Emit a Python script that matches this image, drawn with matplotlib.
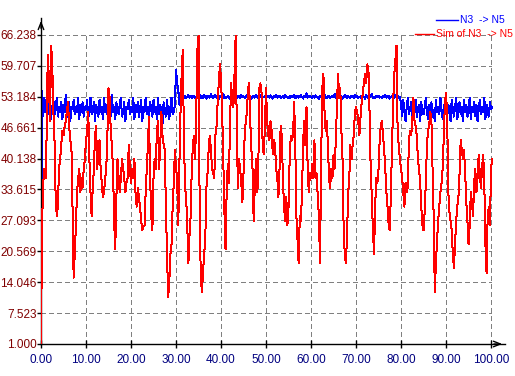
import numpy as np
import matplotlib
matplotlib.use("Agg")
import matplotlib.pyplot as plt
from matplotlib.lines import Line2D

plt.rcParams['font.family'] = ['Liberation Sans', 'DejaVu Sans']

# sample step of both series (time units)
t_step = 0.25

# N3 -> N5 (measured), one value every 0.25 from t=0
n3_n5 = [
    12, 54.5, 49, 53, 50, 51.5, 49.5, 52, 50, 48.5, 51, 52.5, 49.5, 50.5, 53, 49, 51, 50, 52, 48.5,
    51.5, 50, 53.5, 49, 50.5, 52, 48, 51, 50.5, 52.5, 49.5, 51, 50, 53, 48.5, 51.5, 50, 52, 49, 51,
    50.5, 52.5, 48.5, 51, 53, 49.5, 50, 52, 48, 51.5, 50.5, 49, 52.5, 50, 51, 48.5, 53, 50, 51.5, 49.5,
    52, 50.5, 49, 53.5, 50, 51, 48.5, 52, 50.5, 49.5, 51.5, 53, 49, 50, 52, 48, 51, 50.5, 52.5, 49.5,
    51, 50, 53, 48.5, 51.5, 50, 52, 49, 50.5, 52.5, 48, 51, 50, 53, 49.5, 51, 48.5, 52, 50.5, 49,
    52.5, 50, 51, 48.5, 53, 49.5, 51.5, 50, 47.5, 52, 50.5, 49, 52.5, 50, 48.5, 51, 53, 49.5, 50, 51.5,
    58.8, 56, 54.5, 51.5, 54, 52.8, 53.4, 53.0, 53.3, 52.9, 53.2, 53.5, 53.0, 53.3, 52.9, 53.2, 53.4, 53.0, 53.2, 53.1,
    53.2, 53.5, 52.9, 53.3, 53.0, 53.6, 53.1, 52.8, 53.4, 53.2, 53.0, 53.7, 53.1, 52.9, 53.3, 53.5, 53.0, 53.2, 52.7, 53.4,
    53.1, 53.3, 53.8, 52.9, 53.2, 53.0, 53.4, 53.1, 52.8, 53.3, 53.6, 53.0, 53.2, 53.1, 52.9, 53.4, 53.2, 53.0, 53.5, 53.1,
    53.3, 52.9, 53.2, 53.6, 53.0, 53.4, 53.1, 52.8, 53.3, 53.2, 53.0, 53.5, 53.2, 52.9, 53.4, 53.1, 53.7, 53.0, 53.2, 53.3,
    52.9, 53.4, 53.1, 53.0, 53.5, 53.2, 52.8, 53.3, 53.1, 53.6, 53.0, 53.2, 53.4, 52.9, 53.1, 53.3, 53.0, 53.5, 53.2, 53.1,
    52.9, 53.3, 53.0, 53.4, 53.2, 53.6, 52.9, 53.1, 53.3, 53.0, 53.2, 53.5, 53.1, 52.8, 53.3, 53.2, 53.9, 53.0, 53.2, 53.4,
    53.1, 52.9, 53.3, 53.0, 53.5, 53.2, 53.1, 52.8, 53.4, 53.2, 53.0, 53.3, 53.6, 53.1, 52.9, 53.2, 53.4, 53.0, 53.1, 53.3,
    53.2, 53.8, 52.9, 53.1, 53.4, 53.0, 53.2, 53.3, 52.8, 53.1, 53.5, 53.2, 53.0, 53.3, 53.1, 52.9, 53.4, 53.2, 53.0, 53.6,
    53.1, 53.3, 52.9, 53.2, 53.0, 53.4, 53.1, 53.2, 52.8, 53.5, 53.0, 53.3, 53.1, 53.2, 53.7, 52.9, 53.2, 53.0, 53.4, 53.1,
    53.3, 53.0, 53.2, 52.9, 53.4, 53.1, 53.6, 53.0, 53.2, 53.3, 52.8, 53.1, 53.4, 53.2, 53.0, 53.5, 53.1, 53.3, 53.0, 53.2,
    51.5, 49, 52.5, 50, 48, 51, 53, 49.5, 50.5, 52, 48.5, 51, 50, 52.5, 49, 50.5, 51.5, 48, 52, 50,
    49.5, 51, 53, 50, 48.5, 51.5, 50, 52, 49, 50.5, 48, 52.5, 50, 51, 49.5, 53, 50.5, 48.5, 51, 52,
    54, 49, 51.5, 50, 48, 52.5, 50.5, 49, 51, 53, 48.5, 50, 52, 49.5, 51, 48, 52.5, 50, 51.5, 49,
    50.5, 53, 48.5, 51, 50, 52, 49, 51.5, 48, 50.5, 52.5, 49.5, 51, 50, 53, 48.5, 51.5, 50, 49, 52,
    50.5, 51,
]

# Sim of N3 -> N5 (model output), same sampling
sim_n3_n5 = [
    1, 27, 35, 38, 36, 45, 62, 57, 48, 64, 60, 50, 44, 32, 28, 30, 38, 40, 43, 46,
    45, 47, 48, 50, 52, 47, 44, 43, 30, 15, 20, 26, 33, 36, 38, 33, 36, 34, 38, 40,
    44, 46, 50, 40, 33, 28, 34, 38, 45, 47, 38, 42, 44, 38, 35, 32, 33, 36, 38, 45,
    55, 53, 46, 43, 38, 27, 21, 32, 40, 36, 33, 36, 40, 38, 36, 33, 35, 36, 43, 38,
    35, 38, 36, 40, 33, 30, 34, 32, 30, 27, 25, 26, 26, 33, 38, 43, 49, 36, 28, 25,
    36, 40, 38, 46, 48, 38, 43, 50, 45, 43, 42, 30, 20, 11, 14, 20, 22, 30, 35, 42,
    38, 36, 26, 39, 50, 58, 63, 45, 34, 32, 26, 18, 24, 28, 38, 43, 45, 40, 50, 63,
    66, 30, 15, 12, 16, 20, 23, 34, 37, 42, 45, 42, 38, 37, 36, 45, 47, 52, 56, 60,
    57, 50, 40, 29, 21, 33, 39, 35, 48, 56, 52, 51, 58, 66, 47, 34, 40, 38, 35, 31,
    37, 45, 48, 50, 55, 56, 48, 42, 38, 27, 34, 40, 33, 35, 55, 56, 54, 43, 41, 47,
    55, 48, 45, 44, 48, 46, 41, 44, 43, 38, 36, 32, 38, 47, 45, 36, 30, 27, 32, 26,
    30, 40, 45, 44, 45, 52, 43, 28, 23, 18, 28, 27, 33, 44, 48, 43, 51, 38, 33, 37,
    36, 39, 36, 44, 36, 37, 32, 28, 18, 40, 55, 58, 50, 46, 48, 43, 36, 34, 38, 36,
    41, 38, 44, 51, 58, 53, 55, 46, 40, 25, 20, 18, 24, 33, 36, 43, 40, 43, 45, 50,
    51, 50, 48, 45, 49, 52, 54, 56, 58, 56, 60, 59, 50, 38, 32, 25, 20, 30, 36, 35,
    38, 44, 47, 48, 45, 42, 38, 33, 30, 26, 25, 33, 43, 52, 58, 61, 64, 45, 43, 40,
    38, 36, 33, 30, 35, 33, 34, 44, 46, 45, 48, 53, 48, 47, 45, 40, 38, 35, 30, 26,
    25, 29, 35, 43, 46, 47, 50, 48, 38, 28, 12, 18, 23, 27, 30, 33, 35, 38, 45, 52,
    54, 49, 33, 29, 27, 25, 20, 17, 22, 27, 30, 32, 37, 44, 42, 40, 42, 37, 31, 27,
    22, 26, 33, 31, 28, 35, 38, 33, 36, 41, 37, 34, 38, 41, 35, 22, 16, 28, 30, 26,
    38, 40,
]

x_ticks = [0, 10, 20, 30, 40, 50, 60, 70, 80, 90, 100]
y_ticks = [1.000, 7.523, 14.046, 20.569, 27.093, 33.615, 40.138, 46.661, 53.184, 59.707, 66.238]
y_labels = ["1.000", "7.523", "14.046", "20.569", "27.093", "33.615", "40.138",
            "46.661", "53.184", "59.707", "66.238"]

t = np.arange(len(n3_n5)) * t_step

fig = plt.figure(figsize=(5.15, 3.76), dpi=100)
ax = fig.add_axes([41 / 515, 32 / 376, 464 / 515, 326 / 376])

px = 0.72  # one pixel at 100 dpi

# dashed grid only over the data range
ax.hlines(y_ticks, 0, 100, colors='#808080', linestyles=(0, (5, 3)), lw=px, zorder=1,
          antialiased=False)
ax.vlines(x_ticks, y_ticks[0], y_ticks[-1], colors='#808080', linestyles=(0, (5, 3)), lw=px,
          zorder=1, antialiased=False)

# old-style chart: hard one-pixel lines
ax.plot(t, n3_n5, color='#0000ff', lw=px, zorder=2, antialiased=False)
ax.plot(t, sim_n3_n5, color='#ff0000', lw=px, zorder=3, antialiased=False)

ax.set_xlim(0, 103.1)
ax.set_ylim(1, 69.8)
ax.set_xticks(x_ticks)
ax.set_xticklabels([f"{v:.2f}" for v in x_ticks])
ax.set_yticks(y_ticks)
ax.set_yticklabels(y_labels)
ax.tick_params(axis='x', direction='inout', length=6, width=1, colors='black',
               labelcolor='#000080', labelsize=8.5, pad=4)
ax.tick_params(axis='y', direction='out', length=3, width=1, colors='black',
               labelcolor='#800000', labelsize=8.5, pad=0)

for s in ['top', 'right']:
    ax.spines[s].set_visible(False)
for s in ['left', 'bottom']:
    ax.spines[s].set_color('black')
    ax.spines[s].set_linewidth(1)

# arrow heads on the axes
ax.annotate('', xy=(0, 1), xytext=(0, 0.96), xycoords='axes fraction',
            arrowprops=dict(arrowstyle='->,head_length=0.5,head_width=0.2', lw=1, color='black'),
            annotation_clip=False)
ax.annotate('', xy=(1, 0), xytext=(0.97, 0), xycoords='axes fraction',
            arrowprops=dict(arrowstyle='->,head_length=0.5,head_width=0.2', lw=1, color='black'),
            annotation_clip=False)

# legend, top right
W, H = 515, 376
fig.add_artist(Line2D([436 / W, 458 / W], [1 - 20 / H, 1 - 20 / H], color='#0000ff', lw=1))
fig.text(460 / W, 1 - 20 / H, "N3  -> N5", color='#0000ff', fontsize=7.5, va='center', ha='left')
fig.add_artist(Line2D([415 / W, 434 / W], [1 - 34 / H, 1 - 34 / H], color='#ff0000', lw=1))
fig.text(436 / W, 1 - 34 / H, "Sim of N3  -> N5", color='#ff0000', fontsize=7.5, va='center', ha='left')

fig.savefig('out.png', dpi=100, facecolor='white')
